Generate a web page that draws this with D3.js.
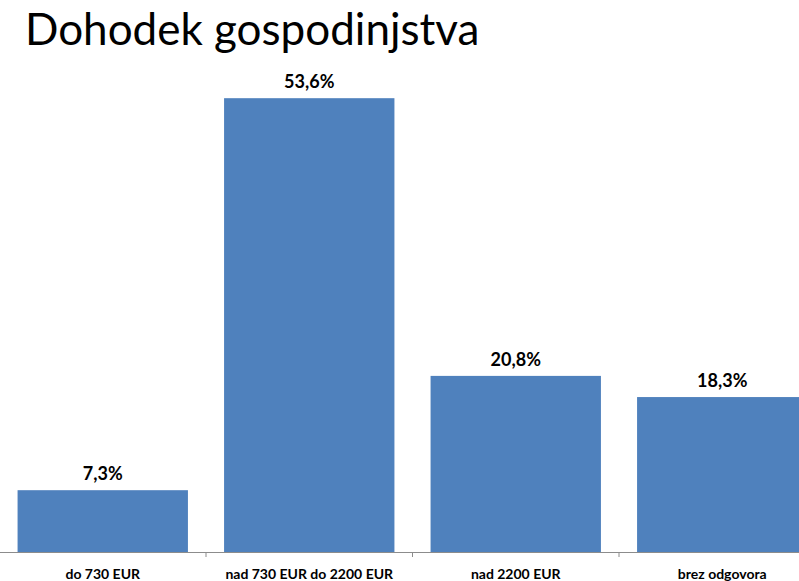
<!DOCTYPE html>
<html>
<head>
<meta charset="utf-8">
<script src="https://cdn.jsdelivr.net/npm/d3@7"></script>
<style>
  html, body { margin: 0; padding: 0; background: #fff; }
  svg { display: block; }
</style>
</head>
<body>
<svg id="chart" width="799" height="581"></svg>
<script>
const title = "Dohodek gospodinjstva";
const categories = ["do 730 EUR", "nad 730 EUR do 2200 EUR", "nad 2200 EUR", "brez odgovora"];
const values = [7.3, 53.6, 20.8, 18.3];
const valueLabels = ["7,3%", "53,6%", "20,8%", "18,3%"];

const svg = d3.select("#chart");
const font = "Lato, 'Open Sans', sans-serif";

svg.append("text")
  .attr("x", 25).attr("y", 45)
  .attr("font-family", font)
  .attr("font-size", 44)
  .attr("fill", "#000")
  .text(title);

const x = d3.scaleBand()
  .domain(categories)
  .range([-0.5, 825.5])
  .paddingInner(0.175)
  .paddingOuter(0.0875);

const y = d3.scaleLinear().domain([0, 60]).range([552, 44]);

svg.selectAll("rect.bar")
  .data(values)
  .join("rect")
  .attr("class", "bar")
  .attr("x", (d, i) => x(categories[i]))
  .attr("y", d => y(d))
  .attr("width", x.bandwidth())
  .attr("height", d => y(0) - y(d))
  .attr("fill", "#4F81BD");

svg.selectAll("text.val")
  .data(values)
  .join("text")
  .attr("class", "val")
  .attr("x", (d, i) => x(categories[i]) + x.bandwidth() / 2)
  .attr("y", d => y(d) - 10)
  .attr("text-anchor", "middle")
  .attr("font-family", font)
  .attr("font-weight", "bold")
  .attr("font-size", 18)
  .attr("fill", "#000")
  .text((d, i) => valueLabels[i]);

const axis = d3.axisBottom(x).tickSize(0).tickPadding(17);
const g = svg.append("g").attr("transform", "translate(0,552)").call(axis);
g.select(".domain").attr("stroke", "#8c8c8c").attr("stroke-width", 1);
g.selectAll(".tick text")
  .attr("font-family", font)
  .attr("font-weight", "bold")
  .attr("font-size", 14)
  .attr("fill", "#000");

// category separator ticks
const step = x.step();
const sepData = categories.slice(1);
g.selectAll("line.sep")
  .data(sepData)
  .join("line")
  .attr("class", "sep")
  .attr("x1", d => x(d) - x.paddingInner() * step / 2)
  .attr("x2", d => x(d) - x.paddingInner() * step / 2)
  .attr("y1", 0).attr("y2", 5)
  .attr("stroke", "#8c8c8c");
</script>
</body>
</html>
